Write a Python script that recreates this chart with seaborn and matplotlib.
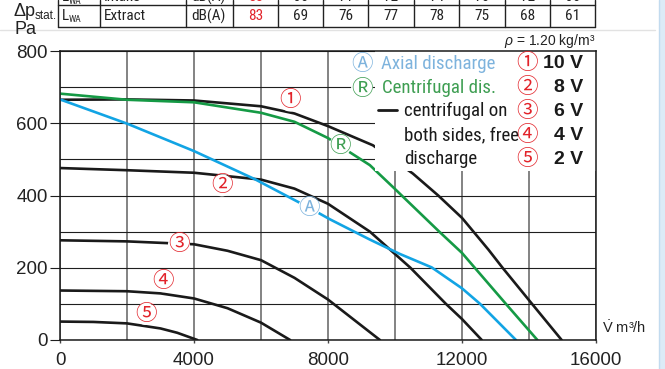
import os
import numpy as np
import pandas as pd
import matplotlib
matplotlib.use("Agg")
import matplotlib.pyplot as plt
import seaborn as sns
from matplotlib import font_manager as fm
from matplotlib.lines import Line2D
from matplotlib.patches import Rectangle

# ---------------- data ----------------
flow_10v = [0, 2000, 4000, 6000, 7000, 8000, 9340, 10530, 11290, 12000, 12790, 13210, 14090, 14975]
pres_10v = [665, 666, 663, 647, 627, 592, 539, 461, 400, 338, 250, 200, 100, 0]

flow_8v = [0, 2000, 4000, 6000, 7000, 8000, 9250, 10000, 10460, 11520, 12000, 12590]
pres_8v = [476, 470, 463, 444, 419, 377, 300, 238, 200, 100, 58, 0]

flow_6v = [0, 2000, 4000, 5000, 6000, 7000, 8000, 9550]
pres_6v = [276, 273, 265, 247, 221, 172, 112, 0]

flow_4v = [0, 2000, 3000, 4000, 5000, 6000, 6870]
pres_4v = [137, 135, 129, 115, 88, 48, 0]

flow_2v = [0, 1000, 2000, 3000, 3500, 4100]
pres_2v = [51, 50, 46, 32, 20, 0]

flow_axial = [0, 2000, 4000, 5820, 7440, 8060, 9250, 10150, 11095, 12000, 12540, 13610]
pres_axial = [666, 599, 523, 445, 366, 334, 278, 238, 201, 143, 100, 0]

flow_centri = [0, 2000, 4000, 6000, 7000, 8000, 8360, 9250, 10000, 10200, 11320, 12000, 12380, 13310, 14250]
pres_centri = [682, 665, 658, 629, 604, 559, 537, 484, 418, 400, 300, 241, 200, 100, 0]

x_ticks = [0, 4000, 8000, 12000, 16000]
y_ticks = [0, 200, 400, 600, 800]

table_head = ["L", "Intake", "dB(A)"]
table_row = ["L", "Extract", "dB(A)"]
intake_values = ["88", "66", "71", "72", "74", "76", "72", "66"]
extract_values = ["83", "69", "76", "77", "78", "75", "68", "61"]

legend_markers = ["①", "②", "③", "④", "⑤"]
legend_volts = ["10 V", "8 V", "6 V", "4 V", "2 V"]
centri_text = ["centrifugal on", "both sides, free", "discharge"]

# ---------------- styling ----------------
sns.set_style("white")
REG = "Liberation Sans"
CJK = ["Noto Sans CJK JP", "DejaVu Sans"]
plt.rcParams["font.family"] = [REG, "DejaVu Sans"]
plt.rcParams["mathtext.fontset"] = "custom"
plt.rcParams["mathtext.rm"] = REG
plt.rcParams["mathtext.it"] = REG + ":italic"


def find_narrow():
    pats = ["liberationsansnarrow-regular", "robotocondensed-regular", "roboto_condensed-regular",
            "notosans-condensed.", "notosans-condensedregular", "notosans-condensed-regular",
            "opensans-condensedregular", "opensans_condensed-regular", "opensanscondensed-regular",
            "dejavusanscondensed.ttf", "notosans-semicondensed.", "dejavusans-condensed"]
    files = [f.fname for f in fm.fontManager.ttflist]
    for p in pats:
        for fn in files:
            if p in os.path.basename(fn).lower():
                return fn
    for f in fm.fontManager.ttflist:
        if (("condensed" in f.name.lower() or "narrow" in f.name.lower()
             or "condensed" in str(f.stretch).lower())
                and f.style == "normal" and f.weight in (400, "normal", "regular")):
            return f.fname
    return None


narrow_file = find_narrow()


def narrow_fp(size):
    if narrow_file:
        return fm.FontProperties(fname=narrow_file, size=size)
    return fm.FontProperties(family=REG, size=size)


RED = "#e2232a"
BLUE = "#12a4e4"
BLUE_T = "#7db3dd"
GREEN = "#159a45"
GREEN_T = "#3e9e52"
BLACK = "#1a1a1a"
DARK = "#222222"

W, H = 665, 369
fig = plt.figure(figsize=(W / 100, H / 100), dpi=100)
ax = fig.add_axes([60 / W, (H - 340) / H, 536 / W, 289 / H])
renderer = fig.canvas.get_renderer()


def fit_size(text, target_px, base=10.0):
    t = fig.text(0, 0, text, fontproperties=narrow_fp(base))
    w = t.get_window_extent(renderer=renderer).width
    t.remove()
    return base * target_px / w


LEG_SIZE = min(fit_size("Axial discharge", 114), 14.5)
TAB_SIZE = min(fit_size("Extract", 42), 12.5)


def fx(px):
    return px / W


def fy(py):
    return 1 - py / H


# ---------------- curves ----------------
frames = []
for name, xs, ys in [
    ("10 V", flow_10v, pres_10v),
    ("8 V", flow_8v, pres_8v),
    ("6 V", flow_6v, pres_6v),
    ("4 V", flow_4v, pres_4v),
    ("2 V", flow_2v, pres_2v),
    ("axial", flow_axial, pres_axial),
    ("centrifugal", flow_centri, pres_centri),
]:
    frames.append(pd.DataFrame({"flow": xs, "pressure": ys, "curve": name}))
df = pd.concat(frames, ignore_index=True)

palette = {"10 V": BLACK, "8 V": BLACK, "6 V": BLACK, "4 V": BLACK, "2 V": BLACK,
           "axial": BLUE, "centrifugal": GREEN}
sns.lineplot(data=df, x="flow", y="pressure", hue="curve", palette=palette,
             estimator=None, sort=False, legend=False, linewidth=1.9, ax=ax)

ax.set_xlim(0, 16000)
ax.set_ylim(0, 800)
ax.set_xlabel("")
ax.set_ylabel("")
ax.set_xticks(x_ticks)
ax.set_xticks(np.arange(0, 16001, 2000), minor=True)
ax.set_yticks(y_ticks)
ax.set_yticks(np.arange(0, 801, 100), minor=True)
ax.set_xticklabels([str(v) for v in x_ticks])
ax.set_yticklabels([str(v) for v in y_ticks])
ax.set_axisbelow(True)
ax.grid(which="both", axis="x", color="#7a7a7a", linewidth=1.3)
ax.grid(which="both", axis="y", color="#1e1e1e", linewidth=0.8)
ax.tick_params(axis="y", which="major", direction="out", length=7.2, width=0.8,
               color="#1e1e1e", pad=1.5, labelsize=13.5, left=True, labelcolor=DARK)
ax.tick_params(axis="x", which="major", direction="out", length=2.5, width=1.0,
               color="#444444", pad=6, labelsize=13.5, bottom=True, labelcolor=DARK)
ax.tick_params(which="minor", length=0)
for s in ax.spines.values():
    s.set_color("#1a1a1a")
    s.set_linewidth(1.1)

# white area behind the legend text
ax.add_patch(Rectangle((9400, 467), 6600, 333, facecolor="white", edgecolor="none", zorder=2.3))

# curve labels on chart
circ_bbox = dict(boxstyle="circle,pad=0.0", facecolor="white", edgecolor="none")
for txt, x, y, col in [("①", 6866, 663, RED), ("②", 4836, 428, RED), ("③", 3552, 265, RED),
                       ("④", 3075, 163, RED), ("⑤", 2567, 72, RED),
                       ("Ⓐ", 7433, 366, BLUE_T), ("Ⓡ", 8358, 537, GREEN_T)]:
    ax.text(x, y, txt, family=CJK, fontsize=15.5, color=col, ha="center", va="center",
            bbox=circ_bbox, zorder=3)

# ---------------- legend (figure text) ----------------
fig.text(fx(362), fy(64), "Ⓐ", family=CJK, fontsize=15.5, color=BLUE_T, ha="center", va="center")
fig.text(fx(381), fy(64), "Axial discharge", fontproperties=narrow_fp(LEG_SIZE), color=BLUE_T,
         ha="left", va="center")
fig.text(fx(362), fy(89), "Ⓡ", family=CJK, fontsize=15.5, color=GREEN_T, ha="center", va="center",
         bbox=dict(boxstyle="circle,pad=0.0", facecolor="white", edgecolor="none"))
fig.text(fx(382), fy(88), "Centrifugal dis.", fontproperties=narrow_fp(LEG_SIZE), color=GREEN_T,
         ha="left", va="center")
fig.add_artist(Line2D([fx(378), fx(397)], [fy(110), fy(110)], color=BLACK, linewidth=2.0))
for i, t in enumerate(centri_text):
    fig.text(fx(404), fy(111 + 24 * i), t, fontproperties=narrow_fp(LEG_SIZE), color=BLACK,
             ha="left", va="center")
for i, (m, v) in enumerate(zip(legend_markers, legend_volts)):
    yy = 63 + 24 * i
    fig.text(fx(527), fy(yy), m, family=CJK, fontsize=15.5, color=RED, ha="center", va="center")
    fig.text(fx(583), fy(yy), v, family=REG, fontsize=14, fontweight="bold", color=BLACK,
             ha="right", va="center")

# density + axis labels
fig.text(fx(595), fy(41), r"$\it{\rho}$ = 1.20 kg/m³", fontsize=10, color=DARK,
         ha="right", va="center")
fig.text(fx(602), fy(328), r"$\dot{\mathrm{V}}$ m³/h", fontsize=10.5, color=DARK,
         ha="left", va="center")
fig.text(fx(14), fy(12), "Δp", fontsize=13, color=DARK, ha="left", va="center")
fig.text(fx(35), fy(16), "stat.", fontsize=8.5, color=DARK, ha="left", va="center")
fig.text(fx(14), fy(29), "Pa", fontsize=13, color=DARK, ha="left", va="center")

# ---------------- partial table at top ----------------
col_x = [58, 100, 186, 233, 278, 323, 368, 414, 459, 505, 550, 595]
for cx in col_x:
    fig.add_artist(Line2D([fx(cx), fx(cx)], [fy(0), fy(27)], color=DARK, linewidth=1.0))
for ry in [5, 27]:
    fig.add_artist(Line2D([fx(58), fx(595)], [fy(ry), fy(ry)], color=DARK, linewidth=1.0))
fig.add_artist(Line2D([fx(0), fx(655)], [fy(29.5), fy(29.5)], color="#e2e2e2", linewidth=1.0))

for row_y, labels, vals in [(-3, table_head, intake_values), (16, table_row, extract_values)]:
    fig.text(fx(62), fy(row_y), labels[0], fontproperties=narrow_fp(TAB_SIZE), color=DARK,
             ha="left", va="center")
    fig.text(fx(68.5), fy(row_y + 4), "WA", fontproperties=narrow_fp(TAB_SIZE * 0.62), color=DARK,
             ha="left", va="center")
    fig.text(fx(104), fy(row_y), labels[1], fontproperties=narrow_fp(TAB_SIZE), color=DARK,
             ha="left", va="center")
    fig.text(fx(208), fy(row_y), labels[2], fontproperties=narrow_fp(TAB_SIZE), color=DARK,
             ha="center", va="center")
    for j, v in enumerate(vals):
        cxm = (col_x[3 + j] + col_x[4 + j]) / 2
        fig.text(fx(cxm), fy(row_y), v, fontproperties=narrow_fp(TAB_SIZE),
                 color=RED if j == 0 else DARK, ha="center", va="center")

# light blue page edge at right
fig.add_artist(Rectangle((fx(659), 0), 1 - fx(659), 1, transform=fig.transFigure,
                         facecolor="#dcebf7", edgecolor="none"))
fig.add_artist(Line2D([fx(659), fx(659)], [0, 1], color="#c2dbef", linewidth=1.0))

fig.savefig("out.png", dpi=100)
